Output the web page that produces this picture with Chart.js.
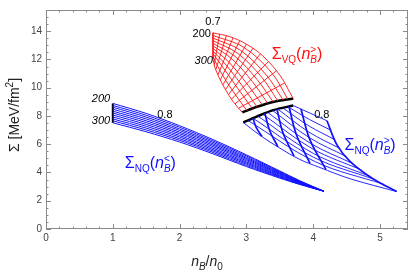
<!DOCTYPE html>
<html>
<head>
<meta charset="utf-8">
<script src="https://cdn.jsdelivr.net/npm/chart.js@4.4.0/dist/chart.umd.min.js"></script>
<style>
  html, body { margin: 0; padding: 0; background: #fff; }
  #wrap { width: 415px; height: 272px; }
</style>
</head>
<body>
<div id="wrap"><canvas id="chart" width="415" height="272"></canvas></div>
<script>
// axis ticks
const xTicks = [0, 1, 2, 3, 4, 5];
const yTicks = [0, 2, 4, 6, 8, 10, 12, 14];

// Sigma_NQ(nB<): one curve per L = 200 ... 300
const nqLowX = [1.0, 1.5, 2.0, 2.5, 3.0, 3.5, 3.8, 4.16];
const nqLowY = [
  [8.89, 8.18, 7.31, 6.33, 5.25, 4.11, 3.42, 2.67],
  [8.75, 8.05, 7.20, 6.23, 5.17, 4.06, 3.39, 2.67],
  [8.62, 7.92, 7.08, 6.13, 5.08, 4.01, 3.37, 2.67],
  [8.48, 7.79, 6.97, 6.03, 5.00, 3.96, 3.34, 2.67],
  [8.34, 7.66, 6.85, 5.93, 4.92, 3.91, 3.31, 2.67],
  [8.21, 7.53, 6.74, 5.83, 4.84, 3.86, 3.29, 2.67],
  [8.07, 7.40, 6.62, 5.72, 4.75, 3.80, 3.26, 2.67],
  [7.93, 7.27, 6.51, 5.62, 4.67, 3.75, 3.23, 2.67],
  [7.79, 7.14, 6.39, 5.52, 4.59, 3.70, 3.20, 2.67],
  [7.66, 7.01, 6.28, 5.42, 4.50, 3.65, 3.18, 2.67],
  [7.52, 6.88, 6.16, 5.32, 4.42, 3.60, 3.15, 2.67]
];
const nqLowEdge = [[1.0, 8.89], [1.0, 7.52]];

// Sigma_VQ(nB>): curves of constant L (200 ... 300)
const vqLCurves = [
  [[2.50, 13.88], [2.754, 13.61], [3.009, 13.06], [3.249, 12.24], [3.503, 10.88], [3.653, 9.64], [3.70, 9.24]],
  [[2.50, 13.70], [2.96, 12.86], [3.38, 11.05], [3.62, 9.19]],
  [[2.50, 13.51], [2.91, 12.65], [3.30, 10.89], [3.55, 9.13]],
  [[2.50, 13.33], [2.87, 12.43], [3.23, 10.74], [3.47, 9.07]],
  [[2.50, 13.14], [2.83, 12.22], [3.16, 10.58], [3.40, 9.00]],
  [[2.50, 12.96], [2.79, 12.01], [3.09, 10.43], [3.32, 8.89]],
  [[2.50, 12.78], [2.74, 11.80], [3.01, 10.27], [3.24, 8.77]],
  [[2.50, 12.59], [2.70, 11.59], [2.94, 10.12], [3.16, 8.63]],
  [[2.50, 12.41], [2.66, 11.37], [2.87, 9.96], [3.09, 8.51]],
  [[2.50, 12.22], [2.61, 11.16], [2.79, 9.81], [3.01, 8.37]],
  [[2.50, 12.04], [2.53, 11.42], [2.59, 10.74], [2.68, 9.92], [2.80, 9.03], [2.94, 8.24]]
];
// Sigma_VQ(nB>): curves of constant second parameter, from 0.7 upward
const vqPCurves = [
  [[2.50, 13.88], [2.50, 12.04]],
  [[2.60, 13.80], [2.519, 11.65]],
  [[2.70, 13.68], [2.543, 11.28]],
  [[2.80, 13.53], [2.575, 10.91]],
  [[2.90, 13.32], [2.61, 10.56]],
  [[3.00, 13.08], [2.649, 10.20]],
  [[3.10, 12.80], [2.688, 9.86]],
  [[3.21, 12.40], [2.734, 9.52]],
  [[3.33, 11.85], [2.779, 9.19]],
  [[3.45, 11.20], [2.83, 8.86]],
  [[3.57, 10.33], [2.884, 8.55]]
];

// Sigma_NQ(nB>): curves of constant L (thin)
const nqHighLCurves = [
  [[3.702, 8.735], [4.207, 7.661]],
  [[3.624, 8.652], [3.945, 7.750], [4.265, 6.997]],
  [[3.546, 8.570], [3.936, 7.298], [4.323, 6.327]],
  [[3.470, 8.488], [3.934, 6.867], [4.398, 5.704]],
  [[3.392, 8.393], [3.943, 6.464], [4.493, 5.137]],
  [[3.319, 8.256], [3.960, 6.060], [4.599, 4.617]],
  [[3.246, 8.119], [3.985, 5.691], [4.723, 4.172]],
  [[3.171, 7.989], [4.009, 5.335], [4.846, 3.735]],
  [[3.099, 7.839], [4.006, 5.075], [4.913, 3.516]],
  [[3.019, 7.695], [4.036, 4.754], [5.051, 3.174]],
  [[2.954, 7.54], [3.204, 6.63], [3.503, 5.72], [3.802, 4.92], [4.102, 4.35], [4.551, 3.56], [5.25, 2.65]]
];
// Sigma_NQ(nB>): curves of constant second parameter, up to 0.8 (thick)
const nqHighPCurves = [
  [[3.099, 7.839], [3.147, 7.189], [3.234, 6.546]],
  [[3.278, 8.184], [3.347, 6.990], [3.473, 5.814]],
  [[3.458, 8.475], [3.548, 6.813], [3.713, 5.164]],
  [[3.638, 8.666], [3.749, 6.669], [3.952, 4.651]],
  [[3.817, 8.488], [3.949, 6.347], [4.192, 4.207]],
  [[4.207, 7.661], [4.356, 5.951], [4.551, 4.788], [4.895, 3.557], [5.25, 2.65]]
];

// transition (black) lines
const transUpper = [[2.939, 8.256], [3.159, 8.652], [3.398, 8.995], [3.702, 9.234]];
const transLower = [[2.954, 7.54], [3.154, 7.95], [3.403, 8.41], [3.702, 8.74]];

const BLUE = '#1010ff';
const RED = '#ff1010';
const FONT = '"Liberation Sans", Arial, sans-serif';

function curve(pts, color, width, tension) {
  return {
    data: pts.map(p => ({ x: p[0], y: p[1] })),
    showLine: true,
    borderColor: color,
    borderWidth: width,
    pointRadius: 0,
    tension: tension,
    fill: false
  };
}

const datasets = [];
nqLowY.forEach(row => datasets.push(curve(row.map((y, i) => [nqLowX[i], y]), BLUE, 1, 0.3)));
vqLCurves.forEach(c => datasets.push(curve(c, RED, 0.9, 0.35)));
vqPCurves.forEach(c => datasets.push(curve(c, RED, 0.9, 0)));
nqHighLCurves.forEach(c => datasets.push(curve(c, BLUE, 0.9, 0.35)));
nqHighPCurves.forEach(c => datasets.push(curve(c, BLUE, 1.7, 0.35)));
datasets.push(curve(transUpper, '#000', 2.5, 0.3));
datasets.push(curve(transLower, '#000', 2.5, 0.3));
datasets.push(curve(nqLowEdge, '#000', 2, 0));

// rich text: runs of {t, s(size), i(italic), dy, back(stack over previous)}
function drawRich(ctx, x, y, runs, color) {
  ctx.save();
  ctx.fillStyle = color;
  ctx.textAlign = 'left';
  ctx.textBaseline = 'alphabetic';
  let cx = x, lastX = x, lastW = 0;
  for (const r of runs) {
    ctx.font = (r.i ? 'italic ' : '') + r.s + 'px ' + FONT;
    const w = ctx.measureText(r.t).width;
    if (r.back) {
      ctx.fillText(r.t, lastX, y + (r.dy || 0));
      cx = lastX + Math.max(w, lastW);
    } else {
      ctx.fillText(r.t, cx, y + (r.dy || 0));
      lastX = cx; lastW = w;
      cx += w;
    }
  }
  ctx.restore();
  return cx - x;
}
function richWidth(ctx, runs) {
  let w = 0, lastW = 0;
  ctx.save();
  for (const r of runs) {
    ctx.font = (r.i ? 'italic ' : '') + r.s + 'px ' + FONT;
    const m = ctx.measureText(r.t).width;
    if (r.back) { w += Math.max(0, m - lastW); } else { w += m; lastW = m; }
  }
  ctx.restore();
  return w;
}

function sigmaLabel(sub, rel) {
  return [
    { t: 'Σ', s: 16 }, { t: sub, s: 10, dy: 4 }, { t: '(', s: 16 },
    { t: 'n', s: 16, i: 1 }, { t: 'B', s: 10, i: 1, dy: 4 }, { t: rel, s: 10, dy: -6, back: 1 },
    { t: ')', s: 16 }
  ];
}

// annotation text (positions in data units)
const notes = [
  { t: '0.7', x: 2.50, y: 14.64, c: '#000', align: 'center' },
  { t: '200', x: 2.47, y: 13.82, c: '#000', align: 'right' },
  { t: '300', x: 2.50, y: 11.90, c: '#000', align: 'right', i: 1 },
  { t: '200', x: 0.96, y: 9.23, c: '#000', align: 'right', i: 1 },
  { t: '300', x: 0.96, y: 7.66, c: '#000', align: 'right', i: 1 },
  { t: '0.8', x: 1.78, y: 8.07, c: '#000', align: 'center' },
  { t: '0.8', x: 4.13, y: 8.07, c: '#000', align: 'center' }
];

const framePlugin = {
  id: 'frame',
  afterDraw(chart) {
    const ctx = chart.ctx, a = chart.chartArea;
    const xs = chart.scales.x, ys = chart.scales.y;
    ctx.save();
    ctx.strokeStyle = '#8a8a8a';
    ctx.lineWidth = 1;
    ctx.strokeRect(a.left + 0.5, a.top + 0.5, a.right - a.left - 1, a.bottom - a.top - 1);
    ctx.beginPath();
    for (let i = 0; i * 0.2 <= xs.max + 1e-9; i++) {
      const px = Math.round(xs.getPixelForValue(i * 0.2)) + 0.5;
      const len = i % 5 === 0 ? 5 : 2.5;
      ctx.moveTo(px, a.bottom); ctx.lineTo(px, a.bottom - len);
      ctx.moveTo(px, a.top); ctx.lineTo(px, a.top + len);
    }
    for (let i = 0; i * 0.5 <= ys.max + 1e-9; i++) {
      const py = Math.round(ys.getPixelForValue(i * 0.5)) + 0.5;
      const len = i % 4 === 0 ? 5 : 2.5;
      ctx.moveTo(a.left, py); ctx.lineTo(a.left + len, py);
      ctx.moveTo(a.right, py); ctx.lineTo(a.right - len, py);
    }
    ctx.stroke();
    ctx.restore();

    // small numeric notes
    ctx.save();
    ctx.textBaseline = 'middle';
    notes.forEach(n => {
      ctx.font = (n.i ? 'italic ' : '') + '11px ' + FONT;
      ctx.fillStyle = n.c;
      ctx.textAlign = n.align;
      ctx.fillText(n.t, xs.getPixelForValue(n.x), ys.getPixelForValue(n.y));
    });
    ctx.restore();

    // curve labels
    drawRich(ctx, xs.getPixelForValue(3.38), ys.getPixelForValue(12.0), sigmaLabel('VQ', '>'), RED);
    drawRich(ctx, xs.getPixelForValue(4.47), ys.getPixelForValue(5.62), sigmaLabel('NQ', '>'), BLUE);
    drawRich(ctx, xs.getPixelForValue(1.18), ys.getPixelForValue(4.33), sigmaLabel('NQ', '<'), BLUE);

    // axis titles
    const xt = [{ t: 'n', s: 14, i: 1 }, { t: 'B', s: 10, i: 1, dy: 4 }, { t: '/', s: 14 }, { t: 'n', s: 14, i: 1 }, { t: '0', s: 10, dy: 4 }];
    const xw = richWidth(ctx, xt);
    drawRich(ctx, 207 - xw / 2, 266, xt, '#222');

    const yt = [{ t: 'Σ [MeV/fm', s: 14 }, { t: '2', s: 10, dy: -6 }, { t: ']', s: 14 }];
    const yw = richWidth(ctx, yt);
    ctx.save();
    ctx.translate(19, 115);
    ctx.rotate(-Math.PI / 2);
    drawRich(ctx, -yw / 2, 0, yt, '#222');
    ctx.restore();
  }
};

new Chart(document.getElementById('chart'), {
  type: 'scatter',
  data: { datasets: datasets },
  options: {
    responsive: false,
    animation: false,
    events: [],
    layout: { padding: { top: 2, right: 7, left: 0, bottom: 0 } },
    plugins: { legend: { display: false }, tooltip: { enabled: false } },
    scales: {
      x: {
        type: 'linear', min: 0, max: 5.42,
        grid: { display: false, drawTicks: false },
        border: { display: false },
        afterBuildTicks: s => { s.ticks = xTicks.map(v => ({ value: v })); },
        afterFit: s => { s.height = 43; },
        ticks: { padding: 3, color: '#444', font: { family: FONT, size: 10 }, maxRotation: 0 }
      },
      y: {
        type: 'linear', min: 0, max: 15.5,
        grid: { display: false, drawTicks: false },
        border: { display: false },
        afterBuildTicks: s => { s.ticks = yTicks.map(v => ({ value: v })); },
        afterFit: s => { s.width = 46; },
        ticks: { padding: 4, color: '#444', font: { family: FONT, size: 10 } }
      }
    }
  },
  plugins: [framePlugin]
});
</script>
</body>
</html>
